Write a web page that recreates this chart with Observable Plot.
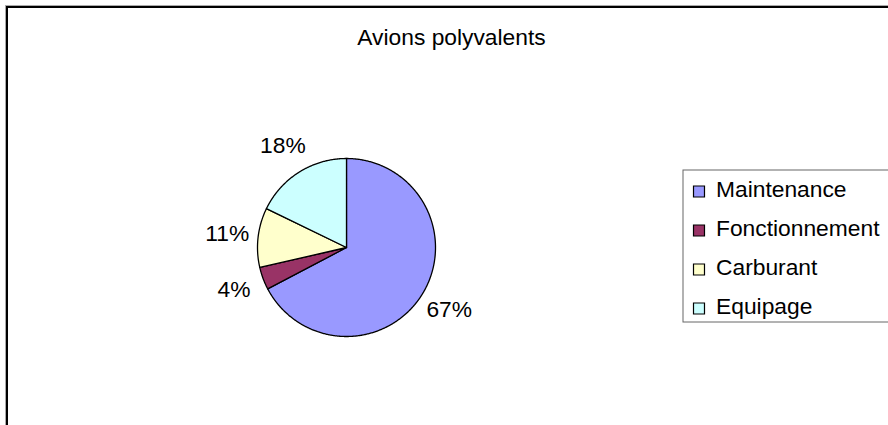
<!DOCTYPE html>
<html>
<head>
<meta charset="utf-8">
<script src="https://cdn.jsdelivr.net/npm/d3@7"></script>
<script src="https://cdn.jsdelivr.net/npm/@observablehq/plot@0.6"></script>
<style>
  html, body { margin: 0; padding: 0; background: #fff; overflow: hidden; }
  #wrap { position: relative; width: 888px; height: 425px; }
  #frame { position: absolute; left: 6px; top: 6px; width: 1000px; height: 1000px;
           border: 2px solid #000; box-shadow: -1px -1px 0 #aaa; pointer-events: none; }
  svg { font-family: "Liberation Sans", Arial, sans-serif; }
</style>
</head>
<body>
<div id="wrap"><div id="frame"></div></div>
<script>
const title = "Avions polyvalents";
const categories = ["Maintenance", "Fonctionnement", "Carburant", "Equipage"];
const values = [67.3, 4.1, 10.8, 17.8];
const colors = ["#9999FF", "#993366", "#FFFFCC", "#CCFFFF"];

// layout
const W = 888, H = 425;
const cx = 346, cy = 247, R = 89, labelR = 120;
const legX = 683, legY = 170, legW = 230, legH = 152, legRow0 = 191, legStep = 39;
const fs = 22.8;

const total = d3.sum(values);
const pie = d3.pie().sort(null).value(d => d)(values);

// slice polygons (angles clockwise from 12 o'clock)
const slicePts = [];
pie.forEach((p, i) => {
  slicePts.push({cat: categories[i], x: cx, y: cy});
  const n = Math.max(2, Math.ceil((p.endAngle - p.startAngle) / (Math.PI / 360)));
  for (let k = 0; k <= n; k++) {
    const a = p.startAngle + (p.endAngle - p.startAngle) * k / n;
    slicePts.push({cat: categories[i], x: cx + R * Math.sin(a), y: cy - R * Math.cos(a)});
  }
});

const labels = pie.map((p, i) => {
  const a = (p.startAngle + p.endAngle) / 2;
  return {
    text: Math.round(values[i] / total * 100) + "%",
    x: cx + labelR * Math.sin(a),
    y: cy - labelR * Math.cos(a)
  };
});

const legend = categories.map((c, i) => ({cat: c, x: legX + 15.5, y: legRow0 + i * legStep}));

const chart = Plot.plot({
  width: W, height: H,
  margin: 0,
  x: {domain: [0, W], range: [0, W], axis: null},
  y: {domain: [0, H], range: [0, H], axis: null},
  color: {domain: categories, range: colors},
  style: {fontFamily: "'Liberation Sans', Arial, sans-serif", background: "transparent"},
  marks: [
    Plot.line(slicePts, {x: "x", y: "y", z: "cat", fill: "cat", stroke: "#000", strokeWidth: 1.3, curve: "linear-closed"}),
    Plot.text(labels, {x: "x", y: "y", text: "text", fontSize: fs, fill: "#000"}),
    Plot.text([title], {x: () => 451, y: () => 37, text: d => d, fontSize: fs, fill: "#000"}),
    Plot.rect([0], {x1: () => legX, x2: () => legX + legW, y1: () => legY, y2: () => legY + legH, fill: "#fff", stroke: "#666", strokeWidth: 1}),
    Plot.dot(legend, {x: "x", y: "y", symbol: "square", r: 6.2, fill: "cat", stroke: "#000", strokeWidth: 1.2}),
    Plot.text(legend, {x: d => d.x + 17, y: d => d.y - 2, text: "cat", textAnchor: "start", fontSize: fs, fill: "#000"})
  ]
});
document.getElementById("wrap").prepend(chart);
</script>
</body>
</html>
